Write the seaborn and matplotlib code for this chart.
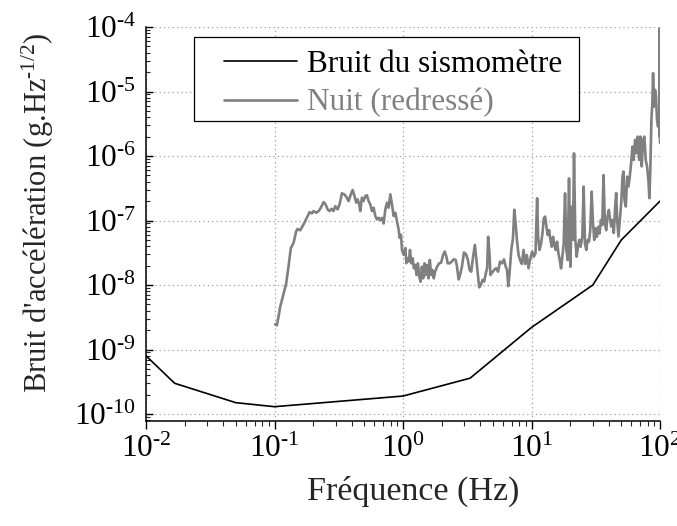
import matplotlib
matplotlib.use("Agg")
import matplotlib.pyplot as plt
import seaborn as sns
import pandas as pd
import numpy as np
from matplotlib.patches import Rectangle
from matplotlib.ticker import LogLocator, FuncFormatter, NullFormatter

# Seismometer self-noise model (Hz, g/sqrt(Hz))
sismo_freq = [0.01, 0.0167, 0.05, 0.1, 1.0, 3.33, 10.0, 30.0, 50.0, 100.0]
sismo_bruit = [8.0e-10, 3.0e-10, 1.5e-10, 1.3e-10, 1.9e-10, 3.6e-10, 2.2e-9, 1.0e-8, 5.0e-8, 2.0e-7]

# Night-time acceleration noise, corrected spectrum (Hz, g/sqrt(Hz))
nuit_freq = [
    0.1012, 0.1043, 0.1074, 0.1107, 0.1161, 0.1233, 0.1285, 0.134, 0.1406, 0.1475,
    0.151, 0.1585, 0.1663, 0.1734, 0.1808, 0.1874, 0.1954, 0.2013, 0.2112, 0.2203,
    0.2296, 0.2408, 0.2496, 0.2588, 0.2683, 0.278, 0.2883, 0.297, 0.3097, 0.321,
    0.3347, 0.349, 0.3618, 0.3773, 0.3887, 0.4054, 0.4177, 0.4329, 0.4434, 0.4567,
    0.465, 0.479, 0.4936, 0.5086, 0.5241, 0.54, 0.5565, 0.5734, 0.5908, 0.6087,
    0.6272, 0.6463, 0.666, 0.6862, 0.7071, 0.7286, 0.7506, 0.7734, 0.7967, 0.821,
    0.846, 0.8716, 0.898, 0.925, 0.942, 0.965, 0.982, 1.012, 1.043, 1.062,
    1.085, 1.112, 1.133, 1.16, 1.188, 1.216, 1.246, 1.276, 1.306, 1.338,
    1.37, 1.403, 1.436, 1.47, 1.506, 1.542, 1.579, 1.618, 1.656, 1.696,
    1.737, 1.778, 1.843, 1.91, 1.979, 2.051, 2.113, 2.176, 2.228, 2.309,
    2.393, 2.479, 2.569, 2.631, 2.71, 2.792, 2.876, 2.98, 3.088, 3.2,
    3.296, 3.395, 3.498, 3.625, 3.712, 3.824, 3.916, 4.034, 4.155, 4.28,
    4.41, 4.515, 4.597, 4.708, 4.79, 4.934, 5.115, 5.3, 5.492, 5.692,
    5.897, 6.11, 6.295, 6.447, 6.602, 6.76, 6.964, 7.174, 7.345, 7.522,
    7.702, 7.934, 8.174, 8.42, 8.673, 8.93, 9.2, 9.48, 9.77, 10.12,
    10.42, 10.74, 11.06, 11.26, 11.54, 11.88, 12.17, 12.46, 12.76, 13.07,
    13.39, 13.71, 14.04, 14.38, 14.72, 15.08, 15.44, 15.81, 16.2, 16.59,
    16.98, 17.39, 17.81, 18.24, 18.68, 19.13, 19.59, 20.06, 20.55, 21.04,
    21.42, 21.94, 22.46, 23.0, 23.56, 24.12, 24.85, 25.45, 26.06, 26.69,
    27.34, 27.99, 28.67, 29.36, 30.06, 30.79, 31.53, 32.29, 33.07, 33.86,
    34.67, 35.51, 36.36, 37.24, 38.13, 39.05, 40.0, 40.96, 41.72, 42.7,
    43.7, 44.8, 45.6, 46.4, 47.5, 48.7, 49.9, 51.05, 51.97, 52.9,
    54.2, 55.5, 56.8, 58.2, 59.6, 61.0, 62.5, 64.0, 65.6, 67.1,
    68.8, 70.4, 72.1, 73.8, 75.6, 77.4, 79.3, 81.2, 82.7, 84.2,
    85.7, 87.2, 88.3, 89.9, 91.5, 93.1, 94.8, 96.5, 98.2, 99.4,
    99.7, 100.0,
]
nuit_bruit = [
    2.46e-9, 2.37e-9, 3.2e-9, 4.6e-9, 6.6e-9, 1.06e-8, 1.93e-8, 3.74e-8, 4.48e-8, 6.8e-8,
    7.4e-8, 7.06e-8, 8.35e-8, 9.8e-8, 1.17e-7, 1.35e-7, 1.29e-7, 1.4e-7, 1.32e-7, 1.4e-7,
    1.58e-7, 1.93e-7, 1.78e-7, 1.49e-7, 1.4e-7, 1.52e-7, 1.4e-7, 1.67e-7, 1.49e-7, 1.78e-7,
    2.64e-7, 2.55e-7, 2.34e-7, 2.0e-7, 2.4e-7, 2.98e-7, 2.46e-7, 1.89e-7, 2.13e-7, 1.78e-7,
    1.4e-7, 2.26e-7, 2.0e-7, 2.4e-7, 2.46e-7, 2.0e-7, 1.78e-7, 1.4e-7, 1.58e-7, 1.17e-7,
    1.04e-7, 1.1e-7, 1.01e-7, 1.1e-7, 9.0e-8, 1.49e-7, 1.89e-7, 1.58e-7, 2.55e-7, 1.78e-7,
    1.17e-7, 1.32e-7, 9.8e-8, 7.2e-8, 5.4e-8, 6.0e-8, 3.5e-8, 2.94e-8, 3.74e-8, 2.18e-8,
    2.61e-8, 2.32e-8, 3.5e-8, 2.17e-8, 2.6e-8, 1.82e-8, 2.05e-8, 1.43e-8, 2.17e-8, 1.35e-8,
    1.13e-8, 1.93e-8, 1.27e-8, 2.17e-8, 1.43e-8, 2.05e-8, 1.27e-8, 2.45e-8, 1.43e-8, 1.71e-8,
    1.27e-8, 1.61e-8, 1.93e-8, 2.17e-8, 2.22e-8, 2.92e-8, 3.3e-8, 2.75e-8, 2.17e-8, 2.17e-8,
    2.31e-8, 2.5e-8, 2.45e-8, 1.93e-8, 1.22e-8, 1.48e-8, 1.93e-8, 3.19e-8, 3.03e-8, 2.45e-8,
    1.71e-8, 1.61e-8, 2.6e-8, 4.19e-8, 2.6e-8, 1.43e-8, 9.2e-9, 1.0e-8, 1.2e-8, 1.13e-8,
    1.52e-8, 1.82e-8, 5.6e-8, 3.1e-8, 1.43e-8, 1.56e-8, 1.71e-8, 1.82e-8, 1.61e-8, 2.31e-8,
    2.17e-8, 2.5e-8, 1.93e-8, 1.71e-8, 9.6e-9, 1.61e-8, 3.5e-8, 5.3e-8, 1.47e-7, 9.1e-8,
    5.0e-8, 2.92e-8, 2.39e-8, 2.12e-8, 3.5e-8, 2.12e-8, 2.92e-8, 1.82e-8, 2.5e-8, 3.29e-8,
    2.75e-8, 3.1e-8, 2.21e-7, 5.6e-8, 3.49e-8, 4.43e-8, 6.3e-8, 1.08e-7, 1.15e-7, 8.0e-8,
    5.95e-8, 7.1e-8, 5.0e-8, 3.93e-8, 5.6e-8, 4.17e-8, 3.49e-8, 4.7e-8, 3.1e-8, 2.44e-8,
    1.81e-8, 2.75e-8, 4.43e-8, 2.64e-7, 3.49e-8, 2.44e-8, 4.5e-7, 1.92e-8, 1.64e-7, 5.0e-8,
    1.1e-6, 5.0e-8, 2.75e-8, 3.93e-8, 5.0e-8, 3.93e-8, 5.6e-8, 3.35e-7, 4.43e-8, 3.49e-8,
    5.0e-8, 4.7e-8, 7.1e-8, 2.8e-7, 9.6e-8, 5.0e-8, 7.6e-8, 5.6e-8, 8.0e-8, 6.3e-8,
    1.02e-7, 8.5e-8, 5.07e-7, 9.0e-8, 7.1e-8, 1.15e-7, 1.46e-7, 1.02e-7, 8.07e-8, 1.02e-7,
    6.4e-8, 1.65e-7, 2.66e-7, 1.02e-7, 5.65e-8, 1.02e-7, 1.86e-7, 4.8e-7, 5.75e-7, 2.09e-7,
    1.65e-7, 4.8e-7, 3.37e-7, 4.8e-7, 7.75e-7, 1.4e-6, 8.7e-7, 1.78e-6, 1.11e-6, 2.0e-6,
    8.7e-7, 2.0e-6, 6.9e-7, 1.78e-6, 2.0e-6, 8.7e-7, 6.9e-7, 4.27e-7, 2.22e-7, 6.9e-7,
    3.64e-6, 6.6e-6, 1.92e-5, 5.85e-6, 1.06e-5, 8.4e-6, 3.64e-6, 2.86e-6, 4.1e-6, 2.0e-6,
    9.6e-5, 1.6e-6,
]

label_sismo = "Bruit du sismomètre"
label_nuit = "Nuit (redressé)"
x_label = "Fréquence (Hz)"
y_label = "Bruit d'accélération (g.Hz$^{\\text{-1/2}}$)"

GRAY = "#808080"

sns.set_style("ticks")
plt.rcParams["font.family"] = ["Liberation Serif", "DejaVu Serif"]
plt.rcParams["mathtext.fontset"] = "custom"
plt.rcParams["mathtext.rm"] = "Liberation Serif"
plt.rcParams["mathtext.it"] = "Liberation Serif:italic"
plt.rcParams["mathtext.bf"] = "Liberation Serif:bold"
plt.rcParams["axes.unicode_minus"] = False


def decade_label(value, pos):
    """Format a power of ten as 10 with a small superscript exponent."""
    exp = int(np.round(np.log10(value)))
    return r"$\mathrm{10}^{\text{%d}}$" % exp


W, H = 677, 526
fig = plt.figure(figsize=(W / 100, H / 100), dpi=100)
ax = fig.add_axes([146 / W, 105 / H, 514 / W, 394 / H])

df_nuit = pd.DataFrame({"freq": nuit_freq, "bruit": nuit_bruit})
df_sismo = pd.DataFrame({"freq": sismo_freq, "bruit": sismo_bruit})

sns.lineplot(data=df_nuit, x="freq", y="bruit", ax=ax, color=GRAY, linewidth=1.9,
             estimator=None, sort=False, zorder=2)
sns.lineplot(data=df_sismo, x="freq", y="bruit", ax=ax, color="black", linewidth=1.2,
             estimator=None, sort=False, zorder=3)

ax.set_xscale("log")
ax.set_yscale("log")
ax.set_xlim(1e-2, 1e2)
ax.set_ylim(7.8e-11, 1e-4)

ax.xaxis.set_major_locator(LogLocator(base=10, numticks=10))
ax.xaxis.set_minor_locator(LogLocator(base=10, subs=range(2, 10), numticks=20))
ax.yaxis.set_major_locator(LogLocator(base=10, numticks=12))
ax.yaxis.set_minor_locator(LogLocator(base=10, subs=range(2, 10), numticks=30))
ax.xaxis.set_major_formatter(FuncFormatter(decade_label))
ax.yaxis.set_major_formatter(FuncFormatter(decade_label))
ax.xaxis.set_minor_formatter(NullFormatter())
ax.yaxis.set_minor_formatter(NullFormatter())

ax.grid(True, which="major", linestyle=(0, (1, 2.5)), color="#a0a0a0", linewidth=0.9)
ax.grid(False, which="minor")

for side in ("top", "right"):
    ax.spines[side].set_visible(False)
for side in ("left", "bottom"):
    ax.spines[side].set_linewidth(1.1)
    ax.spines[side].set_color("black")

ax.tick_params(axis="y", which="major", direction="in", length=5, width=1.0,
               labelsize=22.5, pad=7, colors="black")
ax.tick_params(axis="y", which="minor", direction="in", length=3, width=0.8)
ax.tick_params(axis="x", which="major", direction="out", length=6, width=1.0,
               labelsize=22.5, pad=4, colors="black")
ax.tick_params(axis="x", which="minor", direction="out", length=3.5, width=0.8)

ax.set_xlabel(x_label, fontsize=24.5)
ax.xaxis.set_label_coords(0.52, -0.14)
ax.set_ylabel(y_label, fontsize=22)
ax.yaxis.set_label_coords(-0.175, 0.53)

# Legend box and entries
frame = Rectangle((0.0934, 0.7614), 0.8424 - 0.0934, 0.9746 - 0.7614,
                  transform=ax.transAxes, facecolor="white", edgecolor="black",
                  linewidth=0.9, zorder=4)
ax.add_patch(frame)
h_sismo = plt.Line2D([], [], color="black", linewidth=1.2)
h_nuit = plt.Line2D([], [], color=GRAY, linewidth=1.9)
leg = ax.legend([h_sismo, h_nuit], [label_sismo, label_nuit], loc="upper left",
                bbox_to_anchor=(0.1518, 0.942), frameon=False, borderpad=0,
                borderaxespad=0, handlelength=2.35, handletextpad=0.32,
                labelspacing=0.3, fontsize=22.5, labelcolor=["black", GRAY])
leg.set_zorder(5)

fig.savefig("out.png", dpi=100)
